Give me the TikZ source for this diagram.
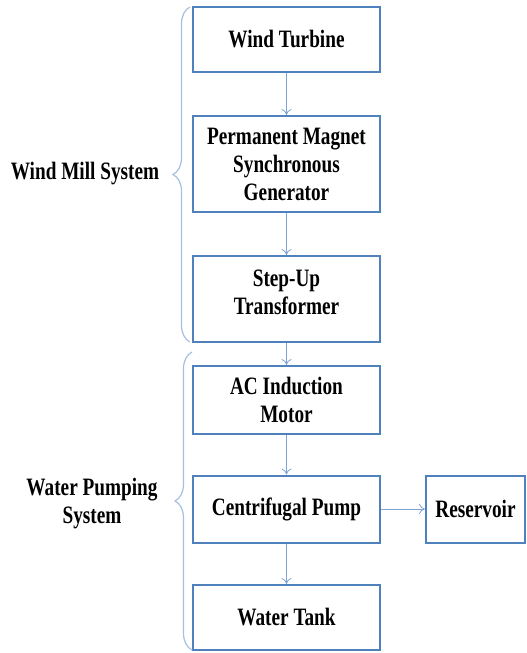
\documentclass[tikz,border=0pt]{standalone}
\usepackage{fontspec}
\setmainfont{Liberation Serif}[FakeStretch=0.77]
\usetikzlibrary{arrows.meta,decorations.pathreplacing}

\definecolor{boxblue}{HTML}{4F81BD}
\definecolor{arrowblue}{HTML}{7FA4D6}
\definecolor{braceblue}{HTML}{A7BFDF}

\tikzset{
  block/.style={draw=boxblue,line width=2pt,minimum width=187pt,align=center,
    inner sep=2pt,font=\fontsize{25}{28}\selectfont\bfseries},
  link/.style={draw=arrowblue,line width=0.8pt,-{To[length=6pt,width=10pt]}},
  grp/.style={draw=braceblue,line width=1.2pt,decorate,decoration={brace,amplitude=17pt}},
  grplabel/.style={align=center,font=\fontsize{25}{28}\selectfont\bfseries}
}

\begin{document}
\begin{tikzpicture}[x=1pt,y=-1pt]
  \useasboundingbox (0,0) rectangle (527,653);

  % wind mill part
  \node [block,minimum height=65pt] (turbine) at (286.5,39.5) {Wind Turbine};
  \node [block,minimum height=96pt] (pmsg) at (286.5,164) {Permanent Magnet\\Synchronous\\Generator};
  \node [block,minimum height=86pt,text depth=14pt] (stepup) at (286.5,299) {Step-Up\\Transformer};

  % water pumping part
  \node [block,minimum height=68pt] (motor) at (286.5,400) {AC Induction\\Motor};
  \node [block,minimum height=67pt] (pump) at (286.5,509) {Centrifugal Pump};
  \node [block,minimum height=67pt,minimum width=99pt] (reservoir) at (475.5,509) {Reservoir};
  \node [block,minimum height=65pt] (tank) at (286.5,617.5) {Water Tank};

  \draw [link] (turbine) -- (pmsg);
  \draw [link] (pmsg) -- (stepup);
  \draw [link] (stepup) -- (motor);
  \draw [link] (motor) -- (pump);
  \draw [link] (pump) -- (tank);
  \draw [link] (pump) -- (reservoir);

  % groups
  \coordinate (wmbot) at (190,342);
  \coordinate (wmtop) at (190,7);
  \coordinate (wpbot) at (192,650);
  \coordinate (wptop) at (192,352);
  \draw [grp] (wmbot) -- (wmtop);
  \draw [grp] (wpbot) -- (wptop);

  \node [grplabel] (wmlabel) at (85,174) {Wind Mill System};
  \node [grplabel] (wplabel) at (92,504) {Water Pumping\\System};
\end{tikzpicture}
\end{document}
